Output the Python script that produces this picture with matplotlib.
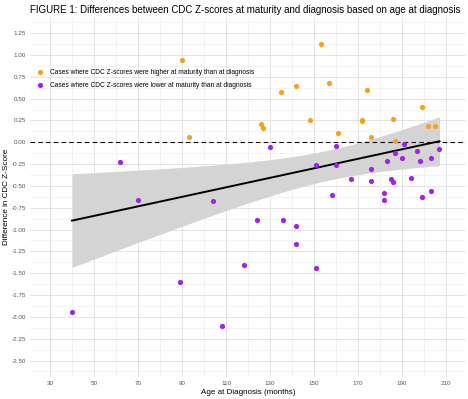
import numpy as np
import matplotlib
matplotlib.use("Agg")
import matplotlib.pyplot as plt
from matplotlib.ticker import MultipleLocator

plt.rcParams["font.family"] = ["Liberation Sans", "DejaVu Sans"]

# -------- data --------
higher_age = [90, 93, 126, 127, 135, 142, 148, 153, 157, 161, 172, 172, 174, 176, 186, 187, 199, 202, 205]
higher_diff = [0.94, 0.06, 0.21, 0.16, 0.58, 0.65, 0.26, 1.12, 0.68, 0.11, 0.26, 0.24, 0.60, 0.06, 0.27, 0.02, 0.40, 0.19, 0.19]

lower_age = [40, 62, 70, 89, 104, 108, 118, 124, 130, 136, 142, 142, 151, 151, 158, 160, 160, 167,
             176, 176, 182, 182, 183, 185, 186, 187, 190, 191, 194, 197, 198, 199, 203, 203, 207]
lower_diff = [-1.94, -0.23, -0.66, -1.60, -0.67, -2.10, -1.41, -0.89, -0.05, -0.89, -0.96, -1.17, -1.44, -0.26,
              -0.60, -0.04, -0.26, -0.42, -0.31, -0.44, -0.58, -0.66, -0.22, -0.42, -0.46, -0.12, -0.18, -0.02,
              -0.41, -0.10, -0.21, -0.63, -0.18, -0.56, -0.08]

label_higher = "Cases where CDC Z-scores were higher at maturity than at diagnosis"
label_lower = "Cases where CDC Z-scores were lower at maturity than at diagnosis"

ORANGE = "#F5A21B"
PURPLE = "#A020F0"

# -------- linear fit with 95% CI (like geom_smooth(method="lm")) --------
x = np.array(higher_age + lower_age, dtype=float)
y = np.array(higher_diff + lower_diff, dtype=float)
n = len(x)
slope, intercept = np.polyfit(x, y, 1)
resid = y - (slope * x + intercept)
s = np.sqrt(np.sum(resid ** 2) / (n - 2))
xx = np.linspace(x.min(), x.max(), 100)
yy = slope * xx + intercept
se = s * np.sqrt(1 / n + (xx - x.mean()) ** 2 / np.sum((x - x.mean()) ** 2))
t_crit = 2.0066  # t(0.975, df=52)

# -------- plot --------
fig = plt.figure(figsize=(4.68, 3.99), dpi=100)
ax = fig.add_axes([0.0645, 0.0554, 0.931, 0.9026])

ax.axhline(0, color="black", linestyle=(0, (4, 3)), linewidth=0.8, zorder=2)
ax.fill_between(xx, yy - t_crit * se, yy + t_crit * se, color="#d4d4d4", linewidth=0, zorder=1)
ax.plot(xx, yy, color="black", linewidth=1.4, zorder=3)

ax.scatter(higher_age, higher_diff, s=14, color=ORANGE, linewidths=0, label=label_higher, zorder=4)
ax.scatter(lower_age, lower_diff, s=14, color=PURPLE, linewidths=0, label=label_lower, zorder=4)

ax.set_xlim(21, 219)
ax.set_ylim(-2.6875, 1.4375)
ax.xaxis.set_minor_locator(MultipleLocator(10))
ax.yaxis.set_minor_locator(MultipleLocator(0.125))
ax.set_xticks(np.arange(30, 211, 20))
ax.set_yticks(np.arange(-2.5, 1.26, 0.25))
ax.set_yticklabels([f"{v:.2f}" for v in np.arange(-2.5, 1.26, 0.25)])

ax.grid(which="major", color="#e4e4e4", linewidth=0.7, zorder=0)
ax.grid(which="minor", color="#efefef", linewidth=0.5, zorder=0)
ax.set_axisbelow(True)
for sp in ax.spines.values():
    sp.set_visible(False)
ax.tick_params(which="both", length=0, labelsize=4.5, labelcolor="#555555", pad=3)

ax.set_xlabel("Age at Diagnosis (months)", fontsize=5.8, labelpad=2)
ax.set_ylabel("Difference in CDC Z-Score", fontsize=5.9)
ax.yaxis.set_label_coords(-0.047, 0.5)

fig.text(0.064, 0.976, "FIGURE 1: Differences between CDC Z-scores at maturity and diagnosis based on age at diagnosis",
         fontsize=7.0, va="center", ha="left")

ax.legend(loc="upper left", bbox_to_anchor=(-0.006, 0.872), frameon=False, fontsize=4.8,
          handletextpad=0.5, labelspacing=0.95, markerscale=1.0, borderaxespad=0.5)

fig.savefig("out.png", dpi=100)
